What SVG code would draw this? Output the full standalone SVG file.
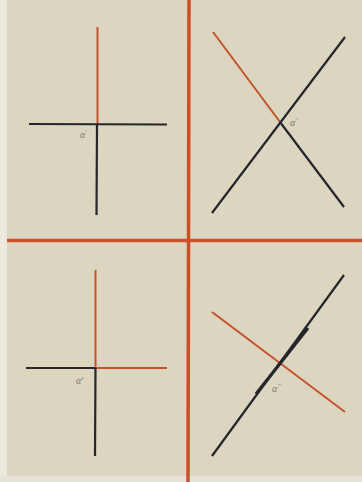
<svg xmlns="http://www.w3.org/2000/svg" width="362" height="482" viewBox="0 0 362 482">
<style>
.red{stroke:#c4522c;stroke-width:2;fill:none;stroke-linecap:butt}
.blk{stroke:#24262c;stroke-width:2.2;fill:none;stroke-linecap:butt}
.axis{stroke:#c8502a;stroke-width:3.5;fill:none}
.lbl{font-family:"Liberation Serif",serif;font-size:10px;fill:#7d796e;font-style:italic}
.sup{font-size:6px}
</style>
<rect x="0" y="0" width="362" height="482" fill="#dcd6c1"/>
<rect x="0" y="0" width="7" height="482" fill="#ece9df"/>
<rect x="0" y="476" width="362" height="6" fill="#e6e2d6"/>
<g id="axes">
<line class="axis" x1="189" y1="0" x2="188" y2="482"/>
<line class="axis" x1="7" y1="240.5" x2="362" y2="240.5"/>
</g>
<g id="q1">
<line class="red" x1="97.5" y1="27" x2="97.5" y2="124"/>
<line class="blk" x1="29" y1="124" x2="167" y2="124.5"/>
<line class="blk" x1="97" y1="124" x2="96.5" y2="215"/>
<text class="lbl" x="80" y="138">α<tspan class="sup" dy="-4">'</tspan></text>
</g>
<g id="q2">
<line class="red" x1="213" y1="32" x2="280" y2="122"/>
<line class="blk" x1="280" y1="122" x2="344" y2="207"/>
<line class="blk" x1="212" y1="213" x2="345" y2="37"/>
<text class="lbl" x="290" y="126">α<tspan class="sup" dy="-4">''</tspan></text>
</g>
<g id="q3">
<line class="red" x1="95.5" y1="270" x2="95.5" y2="368"/>
<line class="blk" x1="26" y1="368" x2="95.5" y2="368"/>
<line class="red" x1="95.5" y1="368" x2="167" y2="368"/>
<line class="blk" x1="95.5" y1="368" x2="95" y2="456"/>
<text class="lbl" x="76" y="384">α<tspan class="sup" dy="-4">v</tspan></text>
</g>
<g id="q4">
<line class="red" x1="212" y1="312" x2="345" y2="412"/>
<line class="blk" x1="212" y1="456" x2="344" y2="275"/>
<line class="blk" x1="256" y1="394" x2="308" y2="328" style="stroke-width:3.2"/>
<text class="lbl" x="272" y="392">α<tspan class="sup" dy="-4">'''</tspan></text>
</g>
</svg>
